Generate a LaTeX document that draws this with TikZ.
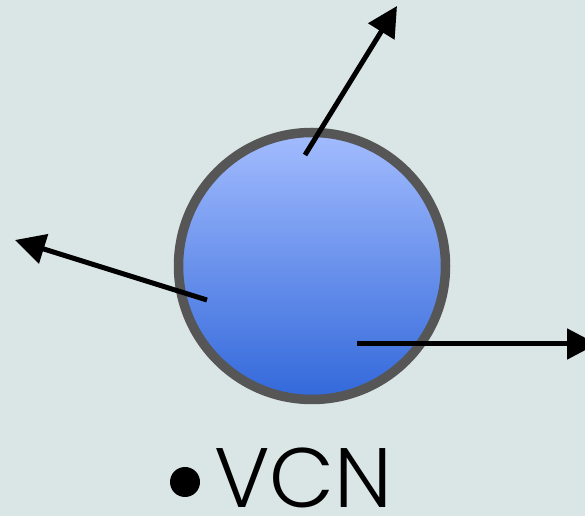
\documentclass[tikz,border=0pt]{standalone}
\usepackage{fontspec}
\newfontfamily\labelfont{Poppins Light}
\usetikzlibrary{arrows.meta}
\definecolor{bgcol}{HTML}{DAE5E5}
\definecolor{rimcol}{HTML}{565656}
\definecolor{balltop}{HTML}{A3BCFE}
\definecolor{ballbot}{HTML}{3268DA}
\tikzset{
  vel/.style={line width=0.1cm, -{Triangle[length=0.6cm, width=0.6cm]}},
}
\begin{document}
\begin{tikzpicture}[x=0.02cm, y=-0.02cm]
  % canvas
  \fill[bgcol] (0,0) rectangle (585,516);
  \useasboundingbox (0,0) rectangle (585,516);
  \clip (0,0) rectangle (585,516);
  % the particle
  \shade[top color=balltop, bottom color=ballbot] (312,266) circle[radius=134];
  \draw[rimcol, line width=0.19cm] (312,266) circle[radius=133.5];
  \node[circle, minimum size=2.68cm, inner sep=0] (ball) at (312,266) {};
  % velocity arrows
  \coordinate (s1) at (305,155);
  \coordinate (t1) at (397,6);
  \coordinate (s2) at (207,300);
  \coordinate (t2) at (15,240);
  \coordinate (s3) at (357,344);
  \coordinate (t3) at (597,344);
  \draw[vel] (s1) -- (t1);
  \draw[vel] (s2) -- (t2);
  \draw[vel] (s3) -- (t3);
  % caption
  \fill[black] (185,482) circle[radius=15];
  \node[anchor=base west, inner sep=0, font=\labelfont\fontsize{48}{48}\selectfont] (cap) at (214,508) {VCN};
\end{tikzpicture}
\end{document}
